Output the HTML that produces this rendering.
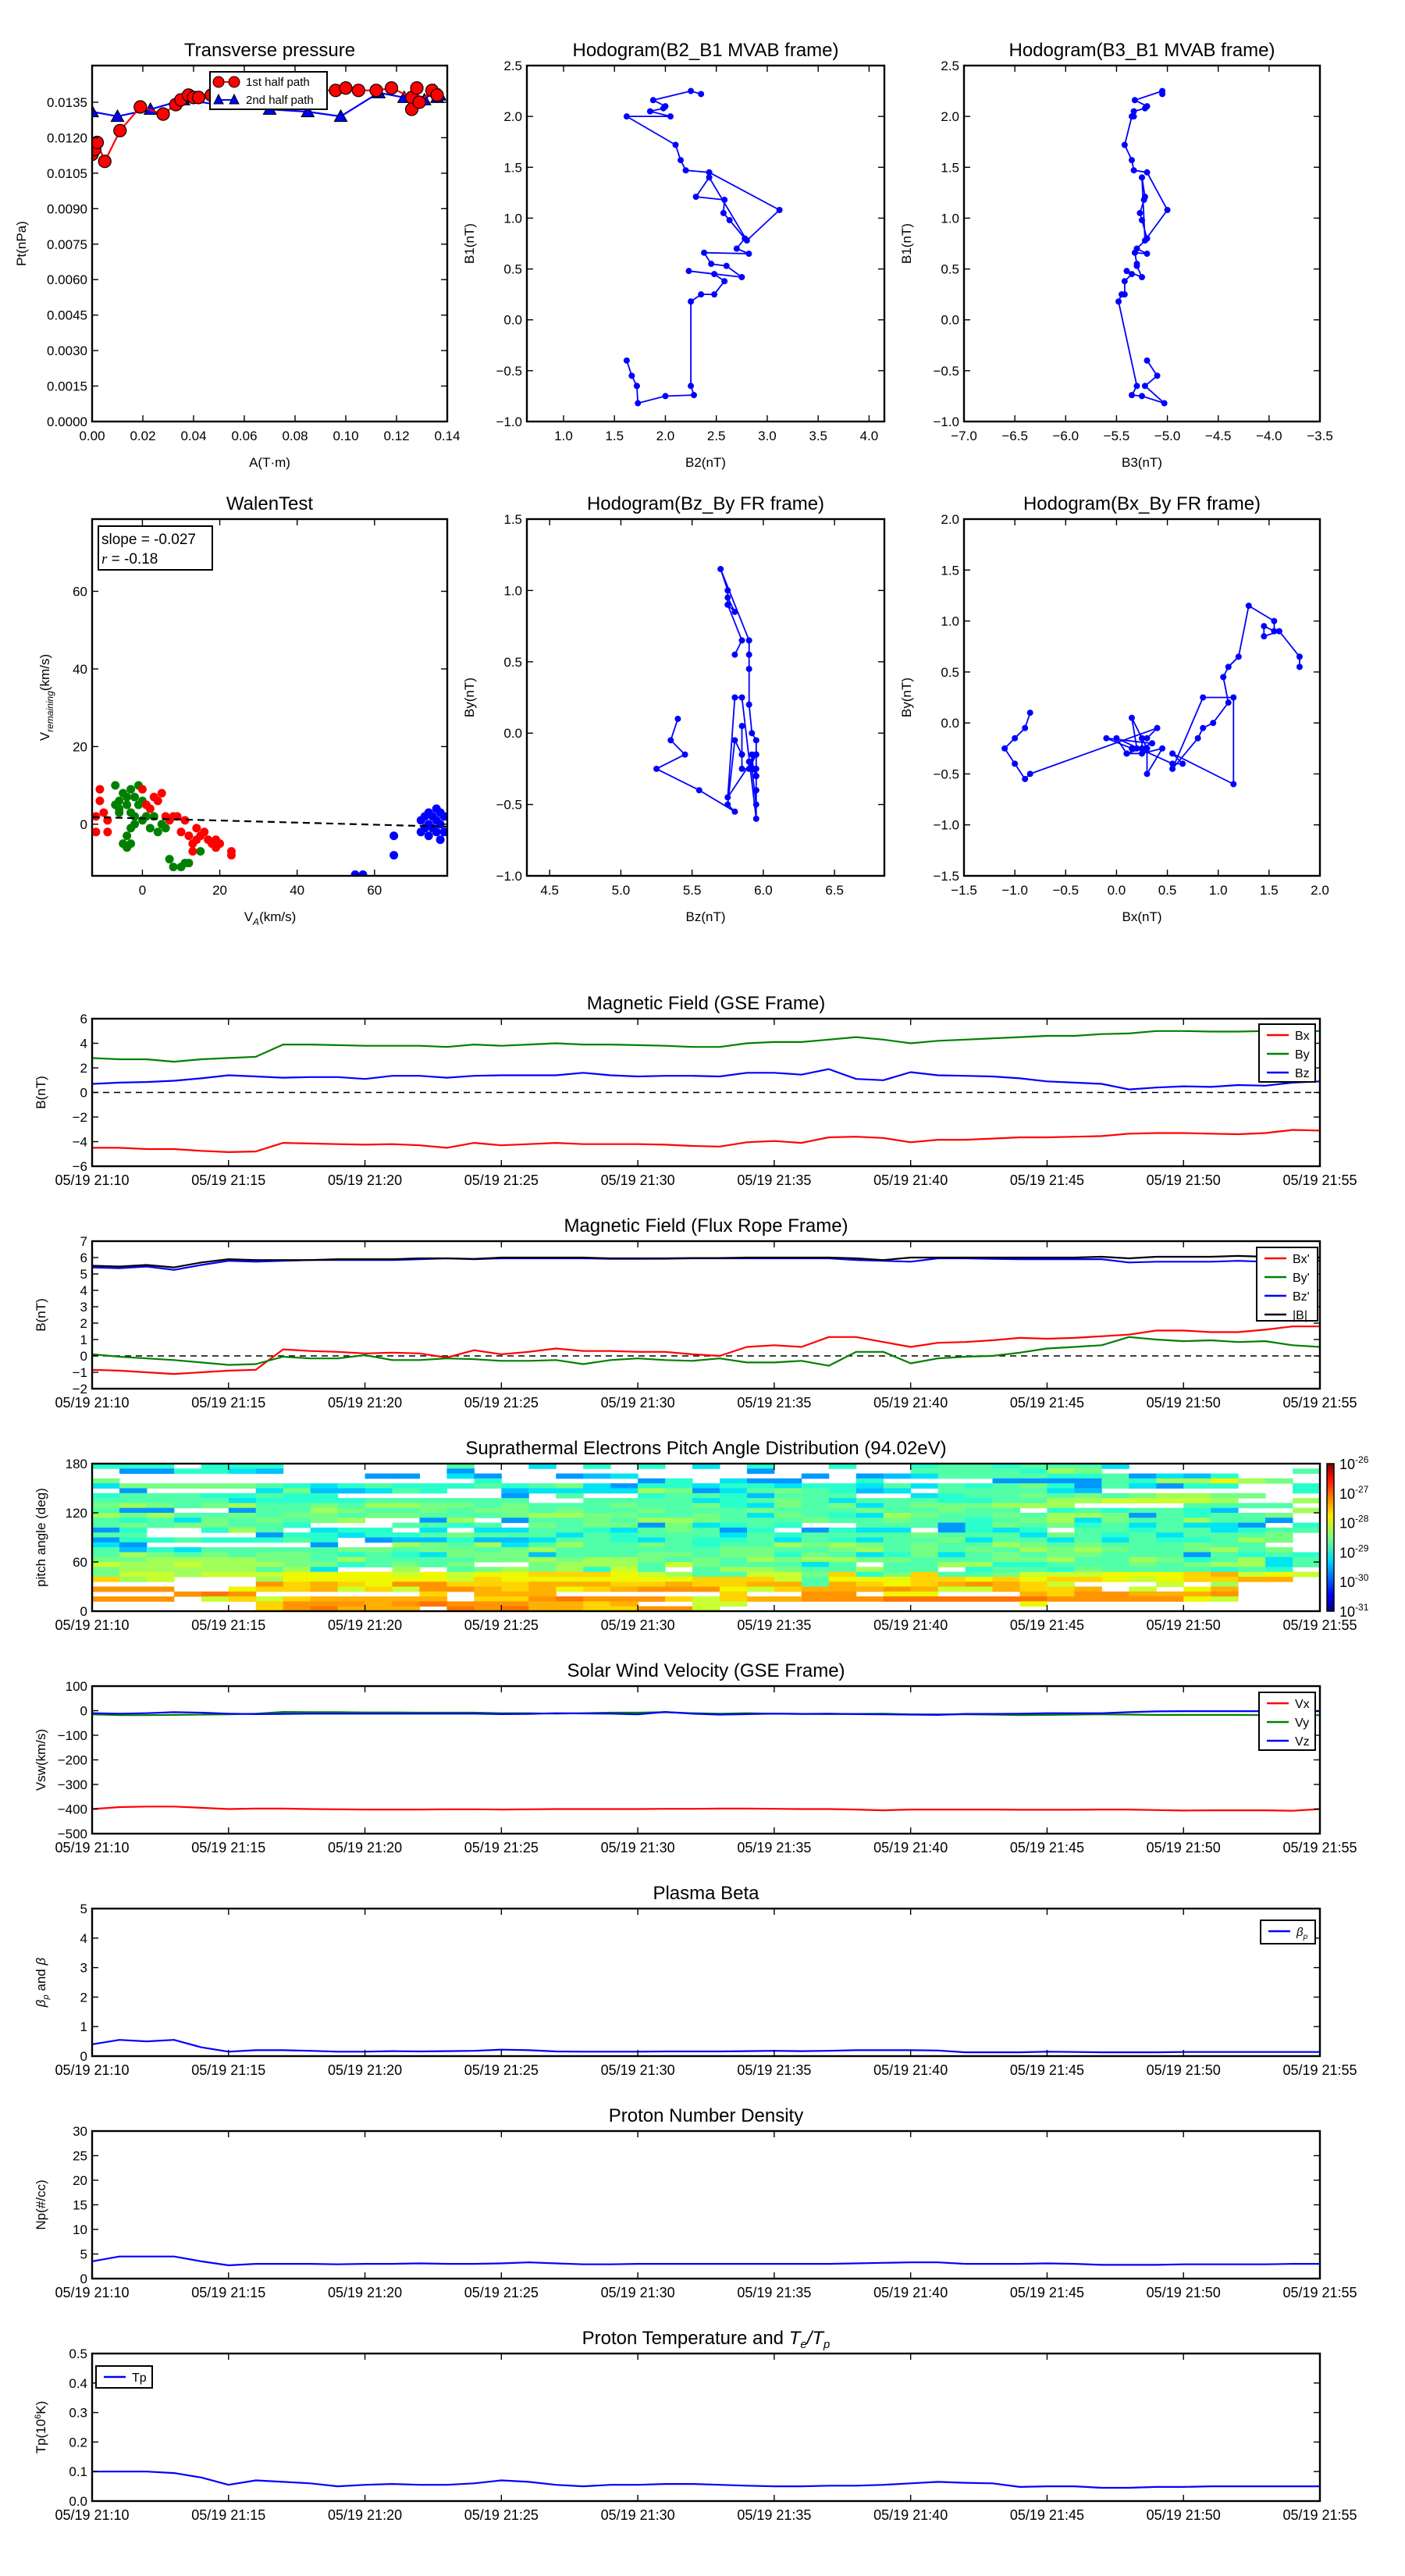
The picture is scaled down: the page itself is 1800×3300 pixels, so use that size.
<!DOCTYPE html>
<html><head><meta charset="utf-8"><title>Flux rope analysis</title>
<style>
html,body{margin:0;padding:0;background:#fff;}
svg{display:block;font-family:"Liberation Sans","DejaVu Sans",sans-serif;}
</style></head>
<body>
<svg id="fig" xmlns="http://www.w3.org/2000/svg" width="1800" height="3300" viewBox="0 0 1800 3300">
<rect x="0" y="0" width="1800" height="3300" fill="#fff"/>
</svg>
<script>
// ---------- DATA ----------
// Transverse pressure
const ptRedA=[0.0,0.001,0.002,0.005,0.011,0.019,0.028,0.033,0.035,0.038,0.040,0.042,0.047,0.055,0.065,0.075,0.085,0.096,0.100,0.105,0.112,0.118,0.126,0.126,0.128,0.129,0.134,0.136];
const ptRedP=[0.0113,0.0115,0.0118,0.0110,0.0123,0.0133,0.0130,0.0134,0.0136,0.0138,0.0137,0.0137,0.0138,0.0139,0.0139,0.0140,0.0140,0.0140,0.0141,0.0140,0.0140,0.0141,0.0137,0.0132,0.0141,0.0135,0.0140,0.0138];
const ptBlueA=[0.0,0.010,0.023,0.036,0.050,0.070,0.085,0.098,0.113,0.123,0.131,0.135,0.137,0.136];
const ptBlueP=[0.0131,0.0129,0.0132,0.0136,0.0134,0.0132,0.0131,0.0129,0.0139,0.0137,0.0136,0.0140,0.0138,0.0137];
const ptXTicks=[0,0.02,0.04,0.06,0.08,0.10,0.12,0.14];
const ptYTicks=[0,0.0015,0.003,0.0045,0.006,0.0075,0.009,0.0105,0.012,0.0135];
// MVAB hodograms
const mvB1=[2.22,2.25,2.16,2.10,2.08,2.05,2.00,2.00,1.72,1.57,1.47,1.45,1.08,0.78,1.40,1.21,1.18,1.05,0.98,0.80,0.70,0.65,0.66,0.55,0.53,0.42,0.48,0.45,0.38,0.25,0.25,0.18,-0.65,-0.74,-0.75,-0.82,-0.65,-0.55,-0.40];
const mvB2=[2.35,2.25,1.88,2.00,1.98,1.85,2.05,1.62,2.10,2.15,2.20,2.43,3.12,2.80,2.43,2.30,2.58,2.57,2.63,2.78,2.70,2.82,2.38,2.45,2.60,2.75,2.23,2.48,2.58,2.48,2.35,2.25,2.25,2.28,2.00,1.73,1.72,1.67,1.62];
const mvB3=[-5.05,-5.05,-5.32,-5.20,-5.22,-5.33,-5.33,-5.35,-5.42,-5.35,-5.33,-5.20,-5.00,-5.22,-5.25,-5.22,-5.23,-5.27,-5.25,-5.20,-5.30,-5.20,-5.32,-5.30,-5.30,-5.25,-5.40,-5.35,-5.42,-5.42,-5.45,-5.48,-5.30,-5.35,-5.25,-5.03,-5.22,-5.10,-5.20];
// Walen test
const walRedX=[-12,-12,-11,-11,-10,-9,-9,0,1,2,3,4,5,6,7,8,9,10,11,12,13,13,14,14,15,16,17,18,19,19,20,23,23];
const walRedY=[2,-2,6,9,3,1,-2,9,5,4,7,6,8,2,1,2,2,-2,1,-3,-5,-7,-1,-4,-3,-2,-4,-5,-6,-4,-5,-7,-8];
const walGreenX=[-7,-6,-6,-5,-4,-4,-3,-3,-2,-2,-1,-1,0,0,1,-3,-4,-3,-2,2,4,5,6,7,8,10,11,12,15,-5,-4,3,-6,-7];
const walGreenY=[10,6,4,8,7,5,9,3,7,2,5,10,6,1,2,-1,-3,-5,0,-1,-2,0,-1,-9,-11,-11,-10,-10,-7,-5,-6,2,3,5];
const walBlueX=[72,73,73,74,74,75,75,76,76,76,77,77,78,78,77,65,65,55,57,72,74];
const walBlueY=[1,-1,2,3,0,2,-1,4,1,-2,3,0,2,-2,-4,-3,-8,-13,-13,-2,-3];
const walSlope=-0.027, walIntercept=1.5;
// Time series (1-min, 21:10 .. 21:55)
const timeLabels=["05/19 21:10","05/19 21:15","05/19 21:20","05/19 21:25","05/19 21:30","05/19 21:35","05/19 21:40","05/19 21:45","05/19 21:50","05/19 21:55"];
const gseBx=[-4.5,-4.5,-4.6,-4.6,-4.75,-4.85,-4.8,-4.1,-4.15,-4.2,-4.25,-4.2,-4.3,-4.5,-4.1,-4.3,-4.2,-4.1,-4.2,-4.2,-4.2,-4.25,-4.35,-4.4,-4.05,-3.95,-4.1,-3.65,-3.6,-3.7,-4.05,-3.85,-3.85,-3.75,-3.65,-3.65,-3.6,-3.55,-3.35,-3.3,-3.3,-3.35,-3.4,-3.3,-3.05,-3.1];
const gseBy=[2.8,2.7,2.7,2.5,2.7,2.8,2.9,3.9,3.9,3.85,3.8,3.8,3.8,3.7,3.9,3.8,3.9,4.0,3.9,3.9,3.85,3.8,3.7,3.7,4.0,4.1,4.1,4.3,4.5,4.3,4.0,4.2,4.3,4.4,4.5,4.6,4.6,4.75,4.8,5.0,5.0,4.95,4.95,5.0,5.0,5.0];
const gseBz=[0.7,0.8,0.85,0.95,1.15,1.4,1.3,1.2,1.25,1.25,1.1,1.35,1.35,1.2,1.35,1.4,1.4,1.4,1.6,1.4,1.3,1.35,1.35,1.3,1.6,1.6,1.45,1.9,1.1,1.0,1.65,1.4,1.35,1.3,1.15,0.9,0.8,0.7,0.25,0.4,0.5,0.45,0.6,0.55,0.8,0.9];
const frBx=[-0.85,-0.9,-1.0,-1.1,-1.0,-0.9,-0.85,0.4,0.3,0.25,0.15,0.2,0.15,-0.1,0.35,0.1,0.25,0.45,0.3,0.3,0.25,0.25,0.1,0.0,0.55,0.65,0.55,1.15,1.15,0.85,0.55,0.8,0.85,0.95,1.1,1.05,1.1,1.2,1.3,1.55,1.55,1.45,1.45,1.6,1.8,1.8];
const frBy=[0.1,-0.05,-0.15,-0.25,-0.4,-0.55,-0.5,-0.05,-0.15,-0.15,0.05,-0.25,-0.25,-0.15,-0.2,-0.3,-0.3,-0.25,-0.5,-0.25,-0.15,-0.25,-0.3,-0.15,-0.4,-0.4,-0.3,-0.6,0.25,0.25,-0.45,-0.15,-0.05,0.0,0.2,0.45,0.55,0.65,1.15,1.0,0.9,0.95,0.85,0.9,0.65,0.55];
const frBz=[5.4,5.35,5.45,5.25,5.55,5.8,5.75,5.8,5.85,5.85,5.85,5.85,5.9,5.95,5.9,5.95,5.95,5.95,5.95,5.92,5.92,5.93,5.95,5.95,5.95,5.95,5.95,5.95,5.85,5.8,5.75,5.95,5.95,5.92,5.9,5.9,5.9,5.9,5.7,5.75,5.75,5.75,5.8,5.75,5.85,5.8];
const frBt=[5.5,5.45,5.55,5.4,5.7,5.9,5.85,5.85,5.85,5.9,5.9,5.9,5.95,5.95,5.92,6.0,6.0,6.0,6.0,5.95,5.95,5.95,5.97,5.97,6.0,6.0,6.0,6.0,5.95,5.85,6.0,6.0,6.0,6.0,6.0,6.0,6.0,6.05,5.95,6.05,6.05,6.05,6.1,6.05,6.05,6.0];
const padRows=[
"ttt.ttt......m..c.t.t.c.t..t..tmmtmmmc.......",
".BBttcb......B..........B.....mmmmtlg.......m",
"..........BB.cB..Bbc......B.BbcmmmmttmBcbt...",
"g.............t.....Bt.cBB..t....BBBBmtllylg.c",
"cgggggmtctmtttmtmgcBttcttcttcmcmtmgtBmcBtt..t",
".B....cgbbcmt..bcccclgBcmgmtbc.mmmmcb.......t",
"tmmmttmtt......B.m..tmmtbmmm..ctmmgmgmgllgg..",
"mmmmmcttttmmmmmm..mmmmctmgmcmmmttmmllkkkkl..l",
"glgmglmmgmllggmgmmmgmmgtcgmgcmggglll....mmmm.",
"mBB..Bmmlgmmgmggmgmmgmmmgmmmgmmgmm.tmtmmtb..l",
"lglmmgmggmggmmmgllggmmgmcgmtclgmmgmllgBmtmmg.",
"mtmcgmgmgl..Bl.BmmgmllgmmmgmmgmmtmglcgmmlmmB.",
"mgmggmmt...mmtm.gmggBgctmt..mmmBtgmgtmcmccB.t",
"Bt..tlm.ctt.c.ccmmtcmgmBt.Btcc.Btct.mmtmmctmmc",
"mm....Bttcttmgmmmcmtmmmcmtmmmmgmmmcgmtmcmmmg.",
"Bttmtttmt.Bbbtbbcmmtcmttmcmtcmmgcmmcmcmttmlg.c",
"cB......B..lgmlcmlmmgmtmmlglgmgmmlgmgmmmgmm..",
"mbtcmmmmmggmggmglmmmmmmggmmglmgmgmlglgmmglmg.g",
"mlgmgmggmtmtcgggbmmmggmggtgmctgcmgmggmmmBmtmt",
"ggllllggmlmmmmgglgllgmgmlgllggmmmgglmmlgtmlcmg",
"kllklllggtmgmg..glllmkgmmmcm.mmllttmmmgmgllcm.",
"glllllmlc..l.mglgltkm.mllgmmlmm.tmmtgmmmmtmt.m",
"gkklkkkyyyykykyyYYYyklmmkkgYtgYmmgkkkyyyYokyk.y",
"Ylk...lyyyyyykYyyyyyyyYYYkmyyyYYyYyYYykyYYoo..",
"......OYoYyOOYYYoooYYoYYoomoYyYoOoYk...k.l....Y",
"OOO..yYYokYkOOoYoyYoOOOykYoooOokkoYYo.k.yo...O",
"...OrO......Y.ooo......Y..OO.yy...oYOOoooO....",
"OOO.kYkYooooo.YYOrOOOYkYooOOOrrrrrrOOOOOyk....",
"......YOOOoOrOOOooYo..kk..........y..........",
"......YOrooo.rOrooYYOOk.......................",];
const vswX=[-400,-392,-390,-390,-395,-400,-398,-398,-400,-401,-402,-402,-402,-401,-401,-402,-401,-400,-400,-400,-400,-399,-399,-398,-398,-399,-400,-400,-402,-405,-402,-402,-402,-402,-403,-403,-403,-402,-402,-404,-406,-405,-405,-405,-407,-400];
const vswY=[-15,-18,-18,-17,-16,-15,-12,-5,-6,-6,-7,-7,-8,-8,-8,-10,-10,-12,-10,-8,-8,-6,-10,-12,-10,-12,-13,-14,-13,-12,-15,-15,-15,-16,-18,-17,-16,-15,-16,-17,-17,-17,-17,-18,-18,-18];
const vswZ=[-10,-12,-10,-6,-8,-12,-14,-13,-12,-12,-12,-12,-12,-12,-12,-14,-13,-10,-11,-12,-15,-5,-12,-16,-14,-12,-13,-12,-14,-15,-16,-17,-13,-13,-12,-10,-10,-10,-6,-3,-2,-2,-2,-2,-2,-2];
const betaP=[0.4,0.55,0.5,0.55,0.3,0.15,0.2,0.2,0.18,0.15,0.15,0.17,0.16,0.17,0.18,0.22,0.2,0.16,0.15,0.15,0.15,0.16,0.16,0.16,0.17,0.18,0.17,0.18,0.2,0.2,0.2,0.19,0.13,0.13,0.13,0.15,0.14,0.13,0.13,0.13,0.14,0.14,0.14,0.14,0.14,0.14];
const densP=[3.5,4.5,4.5,4.5,3.5,2.7,3,3,3,2.9,3,3,3.1,3,3,3.1,3.3,3.1,2.9,2.9,3,3,3,3,3,3,3,3,3.1,3.2,3.3,3.3,3,3,3,3.1,3,2.8,2.8,2.8,2.9,2.9,2.9,2.9,3,3];
const tempP=[0.1,0.1,0.1,0.095,0.08,0.055,0.07,0.065,0.06,0.05,0.055,0.058,0.055,0.055,0.06,0.07,0.065,0.055,0.05,0.055,0.055,0.058,0.058,0.055,0.052,0.05,0.05,0.052,0.052,0.055,0.06,0.065,0.062,0.06,0.048,0.05,0.05,0.045,0.045,0.048,0.048,0.05,0.05,0.05,0.05,0.05];
const cbarExp=["-26","-27","-28","-29","-30","-31"];

// ---------- HELPERS ----------
const NS='http://www.w3.org/2000/svg';
const fig=document.getElementById('fig');
function mk(tag, attrs, parent){
  const e=document.createElementNS(NS,tag);
  for(const k in attrs) e.setAttribute(k,attrs[k]);
  (parent||fig).appendChild(e);
  return e;
}
function txt(s, x, y, size, anchor, parent, extra){
  const t=mk('text',Object.assign({x:x,y:y,'font-size':size,'text-anchor':anchor||'middle',fill:'#000'},extra||{}),parent);
  t.textContent=s;
  return t;
}
function lin(d0,d1,p0,p1){return v=>p0+(v-d0)/(d1-d0)*(p1-p0);}
function fmt(v,d){return v.toFixed(d).replace('-','\u2212');}

function axes(o){
  const g=mk('g',{});
  
  
  const sx=lin(o.xmin,o.xmax,o.x0,o.x0+o.w), sy=lin(o.ymin,o.ymax,o.y0+o.h,o.y0);
  const clipId='clip-'+o.name;
  const cp=mk('clipPath',{id:clipId},g); mk('rect',{x:o.x0,y:o.y0,width:o.w,height:o.h},cp);
  const plot=mk('g',{'clip-path':'url(#'+clipId+')'},g);
  
  
  // ticks
  const tg=mk('g',{stroke:'#000','stroke-width':1.4},g);
  (o.xticks||[]).forEach((v,i)=>{
    const x=sx(v);
    mk('line',{x1:x,y1:o.y0+o.h,x2:x,y2:o.y0+o.h-8},tg);
    mk('line',{x1:x,y1:o.y0,x2:x,y2:o.y0+8},tg);
    if(!o.timeAxis){const l=txt(o.xfmt(v),x,o.y0+o.h+24,17,'middle',g);
    }
  });
  (o.yticks||[]).forEach((v,i)=>{
    const y=sy(v);
    mk('line',{x1:o.x0,y1:y,x2:o.x0+8,y2:y},tg);
    mk('line',{x1:o.x0+o.w,y1:y,x2:o.x0+o.w-8,y2:y},tg);
    const l=txt(o.yfmt(v),o.x0-6,y+6,17,'end',g);
    
  });
  if(o.timeAxis){
    timeLabels.forEach((s,i)=>{const l=txt(s,sx(i*5),o.y0+o.h+24,18,'middle',g);
    });
  }
  mk('rect',{x:o.x0,y:o.y0,width:o.w,height:o.h,fill:'none',stroke:'#000','stroke-width':2.4},g);
  if(o.title){const t=txt(o.title,o.x0+o.w/2,o.y0-12,24,'middle',g);
    }
  if(o.xlabel){const t=txt(o.xlabel,o.x0+o.w/2,o.y0+o.h+58,17,'middle',g);
    }
  if(o.ylabel){const yx=o.x0-o.ylOff, yy=o.y0+o.h/2;
    const t=txt(o.ylabel,yx,yy,17,'middle',g,{transform:'rotate(-90 '+yx+' '+yy+')'});
    }
  return {g,plot,sx,sy};
}
function polyline(ax,xs,ys,color,w,name,dash){
  const pts=xs.map((x,i)=>ax.sx(x).toFixed(1)+','+ax.sy(ys[i]).toFixed(1)).join(' ');
  const p=mk('polyline',{points:pts,fill:'none',stroke:color,'stroke-width':w||2.2,'stroke-linejoin':'round'},ax.plot);
  if(dash) p.setAttribute('stroke-dasharray',dash);
  
  
  return p;
}
function dots(ax,xs,ys,color,r,name,stroke){
  const g=mk('g',{},ax.plot);
  
  
  xs.forEach((x,i)=>{
    const c=mk('circle',{cx:ax.sx(x),cy:ax.sy(ys[i]),r:r,fill:color},g);
    if(stroke){c.setAttribute('stroke',stroke);c.setAttribute('stroke-width',1.2);}
  });
  return g;
}
function tris(ax,xs,ys,color,s,name){
  const g=mk('g',{},ax.plot);
  
  
  xs.forEach((x,i)=>{
    const cx=ax.sx(x), cy=ax.sy(ys[i]);
    mk('polygon',{points:`${cx},${cy-s} ${cx-s},${cy+s*0.8} ${cx+s},${cy+s*0.8}`,fill:color,stroke:'#000','stroke-width':1.2},g);
  });
}
function rng(a,b,s){const r=[];for(let v=a;v<=b+1e-9;v+=s)r.push(+v.toFixed(6));return r;}
function legend(x,y,w,h,entries,name,parent){
  const g=mk('g',{},parent||fig);
  
  
  mk('rect',{x:x,y:y,width:w,height:h,fill:'#fff',stroke:'#000','stroke-width':2},g);
  entries.forEach((e,i)=>{
    const cy=y+14+i*24;
    mk('line',{x1:x+10,y1:cy,x2:x+38,y2:cy,stroke:e[1],'stroke-width':2.4},g);
    const t=txt(e[0],x+46,cy+6,16,'start',g);
    
  });
  return g;
}

// ---------- ROW 1 ----------
const R1={y0:84,h:456}, R2={y0:665,h:457};
const C=[{x0:118,w:455},{x0:675,w:458},{x0:1235,w:456}];

const axPt=axes({name:'transverse-pressure',x0:C[0].x0,y0:R1.y0,w:C[0].w,h:R1.h,xmin:0,xmax:0.14,ymin:0,ymax:0.01505,
  xticks:ptXTicks,yticks:ptYTicks,xfmt:v=>v.toFixed(2),yfmt:v=>v.toFixed(4),title:'Transverse pressure',xlabel:'A(T\u00b7m)',ylabel:'Pt(nPa)',ylOff:85});
polyline(axPt,ptBlueA,ptBlueP,'#0000ff',2.2,'second-half-path-line');
tris(axPt,ptBlueA,ptBlueP,'#0000ff',8,'second-half-path-markers');
polyline(axPt,ptRedA,ptRedP,'#ff0000',2.2,'first-half-path-line');
dots(axPt,ptRedA,ptRedP,'#ff0000',8,'first-half-path-markers','#000');
(function(){
  const g=mk('g',{},axPt.g);
  
  
  mk('rect',{x:269,y:92,width:150,height:48,fill:'#fff',stroke:'#000','stroke-width':2},g);
  mk('line',{x1:280,y1:105,x2:300,y2:105,stroke:'#f00','stroke-width':2},g);
  mk('circle',{cx:280,cy:105,r:7,fill:'#f00',stroke:'#000'},g);mk('circle',{cx:300,cy:105,r:7,fill:'#f00',stroke:'#000'},g);
  txt('1st half path',315,110,15,'start',g);
  mk('line',{x1:280,y1:128,x2:300,y2:128,stroke:'#00f','stroke-width':2},g);
  mk('polygon',{points:'280,121 274,133 286,133',fill:'#00f',stroke:'#000'},g);
  mk('polygon',{points:'300,121 294,133 306,133',fill:'#00f',stroke:'#000'},g);
  txt('2nd half path',315,133,15,'start',g);
})();

const axH1=axes({name:'hodogram-b2-b1',x0:C[1].x0,y0:R1.y0,w:C[1].w,h:R1.h,xmin:0.64,xmax:4.15,ymin:-1,ymax:2.5,
  xticks:rng(1,4,0.5),yticks:rng(-1,2.5,0.5),xfmt:v=>v.toFixed(1),yfmt:v=>fmt(v,1),title:'Hodogram(B2_B1 MVAB frame)',xlabel:'B2(nT)',ylabel:'B1(nT)',ylOff:68});
polyline(axH1,mvB2,mvB1,'#0000ff',1.8,'b2-b1-path');
dots(axH1,mvB2,mvB1,'#0000ff',4,'b2-b1-points');

const axH2=axes({name:'hodogram-b3-b1',x0:C[2].x0,y0:R1.y0,w:C[2].w,h:R1.h,xmin:-7,xmax:-3.5,ymin:-1,ymax:2.5,
  xticks:rng(-7,-3.5,0.5),yticks:rng(-1,2.5,0.5),xfmt:v=>fmt(v,1),yfmt:v=>fmt(v,1),title:'Hodogram(B3_B1 MVAB frame)',xlabel:'B3(nT)',ylabel:'B1(nT)',ylOff:68});
polyline(axH2,mvB3,mvB1,'#0000ff',1.8,'b3-b1-path');
dots(axH2,mvB3,mvB1,'#0000ff',4,'b3-b1-points');

// ---------- ROW 2 ----------
const axW=axes({name:'walen-test',x0:C[0].x0,y0:R2.y0,w:C[0].w,h:R2.h,xmin:-13,xmax:78.8,ymin:-13.3,ymax:78.6,
  xticks:[0,20,40,60],yticks:[0,20,40,60],xfmt:v=>String(v),yfmt:v=>String(v),title:'WalenTest',ylOff:62});
(function(){
  const t=txt('',axW.sx(33),R2.y0+R2.h+58,17,'middle',axW.g);
  
  t.innerHTML='V<tspan font-size="12" dy="5" font-style="italic">A</tspan><tspan dy="-5">(km/s)</tspan>';
  const yx=63, yy=R2.y0+R2.h/2;
  const t2=txt('',yx,yy,17,'middle',axW.g,{transform:'rotate(-90 '+yx+' '+yy+')'});
  
  t2.innerHTML='V<tspan font-size="12" dy="5" font-style="italic">remaining</tspan><tspan dy="-5">(km/s)</tspan>';
})();
dots(axW,walGreenX,walGreenY,'#008000',5.5,'walen-green-points');
dots(axW,walRedX,walRedY,'#ff0000',5.5,'walen-red-points');
dots(axW,walBlueX,walBlueY,'#0000ff',5.5,'walen-blue-points');
polyline(axW,[-13,78.8],[walIntercept+walSlope*-13,walIntercept+walSlope*78.8],'#000',2.2,'walen-fit-line','9,6');
(function(){
  const g=mk('g',{},axW.g);
  
  
  mk('rect',{x:126,y:674,width:146,height:56,fill:'#fff',stroke:'#000','stroke-width':2},g);
  txt('slope = -0.027',130,697,19,'start',g);
  const t=txt('',130,722,19,'start',g); t.innerHTML='<tspan font-style="italic" font-family="Liberation Serif">r</tspan> = -0.18';
})();

const axH3=axes({name:'hodogram-bz-by',x0:C[1].x0,y0:R2.y0,w:C[1].w,h:R2.h,xmin:4.34,xmax:6.85,ymin:-1,ymax:1.5,
  xticks:rng(4.5,6.5,0.5),yticks:rng(-1,1.5,0.5),xfmt:v=>v.toFixed(1),yfmt:v=>fmt(v,1),title:'Hodogram(Bz_By FR frame)',xlabel:'Bz(nT)',ylabel:'By(nT)',ylOff:68});
polyline(axH3,frBz,frBy,'#0000ff',1.8,'bz-by-path');
dots(axH3,frBz,frBy,'#0000ff',4,'bz-by-points');

const axH4=axes({name:'hodogram-bx-by',x0:C[2].x0,y0:R2.y0,w:C[2].w,h:R2.h,xmin:-1.5,xmax:2.0,ymin:-1.5,ymax:2.0,
  xticks:rng(-1.5,2,0.5),yticks:rng(-1.5,2,0.5),xfmt:v=>fmt(v,1),yfmt:v=>fmt(v,1),title:'Hodogram(Bx_By FR frame)',xlabel:'Bx(nT)',ylabel:'By(nT)',ylOff:68});
polyline(axH4,frBx,frBy,'#0000ff',1.8,'bx-by-path');
dots(axH4,frBx,frBy,'#0000ff',4,'bx-by-points');

// ---------- TIME SERIES ----------
const TX0=118, TW=1573, TH=189;
const mins=gseBx.map((_,i)=>i);
function tpanel(name,top,ymin,ymax,yticks,yfmt,title,ylabel){
  return axes({name:name,x0:TX0,y0:top,w:TW,h:TH,xmin:0,xmax:45,ymin:ymin,ymax:ymax,xticks:rng(0,45,5),yticks:yticks,
    yfmt:yfmt,timeAxis:true,title:title,ylabel:ylabel,ylOff:60});
}
const ax1=tpanel('gse-field-panel',1305,-6,6,rng(-6,6,2),v=>fmt(v,0),'Magnetic Field (GSE Frame)','B(nT)');
polyline(ax1,[0,45],[0,0],'#000',1.6,'zero-line','8,6');
polyline(ax1,mins,gseBx,'#ff0000',2.2,'bx-line');
polyline(ax1,mins,gseBy,'#008000',2.2,'by-line');
polyline(ax1,mins,gseBz,'#0000ff',2.2,'bz-line');
legend(1613,1312,72,74,[['Bx','#f00'],['By','#008000'],['Bz','#00f']],'gse-legend');

const ax2=tpanel('fr-field-panel',1590,-2,7,rng(-2,7,1),v=>fmt(v,0),'Magnetic Field (Flux Rope Frame)','B(nT)');
polyline(ax2,[0,45],[0,0],'#000',1.6,'zero-line','8,6');
polyline(ax2,mins,frBx,'#ff0000',2.2,'bx-prime-line');
polyline(ax2,mins,frBy,'#008000',2.2,'by-prime-line');
polyline(ax2,mins,frBz,'#0000ff',2.2,'bz-prime-line');
polyline(ax2,mins,frBt,'#000000',2.2,'b-total-line');
legend(1610,1598,78,94,[["Bx'",'#f00'],["By'",'#008000'],["Bz'",'#00f'],['|B|','#000']],'fr-legend');

// spectrogram
const ax3=tpanel('pitch-angle-panel',1875,0,180,[0,60,120,180],v=>String(v),'Suprathermal Electrons Pitch Angle Distribution (94.02eV)','pitch angle (deg)');
const padColors={t:'#28ffcc',m:'#50ffa8',g:'#74ff84',l:'#a0ff58',k:'#c8ff30',y:'#eef800',Y:'#ffd400',o:'#ffb000',O:'#ff9400',r:'#ff7400',c:'#00e4f4',b:'#00c0ff',B:'#0098ff'};
(function(){
  const g=mk('g',{},ax3.plot);
  
  
  padRows.forEach((row,r)=>{
    const nb=180/padRows.length;
    const yTop=ax3.sy(180-r*nb), yBot=ax3.sy(180-(r+1)*nb);
    for(let c=0;c<45;c++){
      const ch=row[c]; if(!ch||!padColors[ch]) continue;
      const x1=ax3.sx(c), x2=ax3.sx(c+1);
      mk('rect',{x:x1,y:yTop,width:x2-x1+0.5,height:yBot-yTop+0.5,fill:padColors[ch]},g);
    }
  });
  ax3.g.appendChild(ax3.g.querySelector('rect[stroke-width="2.4"]'));
})();
(function(){
  const g=mk('g',{});
  
  
  const defs=mk('defs',{},g);
  const lg=mk('linearGradient',{id:'jet',x1:0,y1:1,x2:0,y2:0},defs);
  [[0,'#00007f'],[0.11,'#0000ff'],[0.34,'#00d4ff'],[0.5,'#7dff7a'],[0.65,'#ffe600'],[0.89,'#ff1400'],[1,'#7f0000']].forEach(s=>mk('stop',{offset:s[0],'stop-color':s[1]},lg));
  mk('rect',{x:1700,y:1875,width:9,height:189,fill:'url(#jet)',stroke:'#000','stroke-width':1.5},g);
  cbarExp.forEach((e,i)=>{
    const y=1875+i*189/5;
    const t=txt('',1716,y+7,18,'start',g);
    
    t.innerHTML='10<tspan font-size="12" dy="-8">'+e+'</tspan>';
  });
})();

const ax4=tpanel('velocity-panel',2160,-500,100,rng(-500,100,100),v=>fmt(v,0),'Solar Wind Velocity (GSE Frame)','Vsw(km/s)');
polyline(ax4,mins,vswX,'#ff0000',2.2,'vx-line');
polyline(ax4,mins,vswY,'#008000',2.2,'vy-line');
polyline(ax4,mins,vswZ,'#0000ff',2.2,'vz-line');
legend(1613,2168,72,74,[['Vx','#f00'],['Vy','#008000'],['Vz','#00f']],'velocity-legend');

const ax5=tpanel('plasma-beta-panel',2445,0,5,rng(0,5,1),v=>String(v),'Plasma Beta','');
polyline(ax5,mins,betaP,'#0000ff',2.2,'beta-line');
(function(){
  const yx=58, yy=2445+TH/2;
  const t=txt('',yx,yy,17,'middle',ax5.g,{transform:'rotate(-90 '+yx+' '+yy+')'});
  
  t.innerHTML='<tspan font-style="italic">β</tspan><tspan font-size="11" dy="4" font-style="italic">p</tspan><tspan dy="-4"> and </tspan><tspan font-style="italic">β</tspan>';
  const g=legend(1615,2460,70,30,[['',"#00f"]],'beta-legend');
  const l=txt('',1661,2480,15,'start',g); l.innerHTML='<tspan font-style="italic">β</tspan><tspan font-size="10" dy="4" font-style="italic">p</tspan>';
})();

const ax6=tpanel('density-panel',2730,0,30,rng(0,30,5),v=>String(v),'Proton Number Density','Np(#/cc)');
polyline(ax6,mins,densP,'#0000ff',2.2,'density-line');

const ax7=tpanel('temperature-panel',3015,0,0.5,rng(0,0.5,0.1),v=>v.toFixed(1),'','');
polyline(ax7,mins,tempP,'#0000ff',2.2,'temperature-line');
(function(){
  const t=txt('',TX0+TW/2,3003,24,'middle',ax7.g);
  
  t.innerHTML='Proton Temperature and <tspan font-style="italic">T</tspan><tspan font-size="15" dy="5" font-style="italic">e</tspan><tspan dy="-5" font-style="italic">/T</tspan><tspan font-size="15" dy="5" font-style="italic">p</tspan>';
  const yx=58, yy=3015+TH/2;
  const t2=txt('',yx,yy,17,'middle',ax7.g,{transform:'rotate(-90 '+yx+' '+yy+')'});
  
  t2.innerHTML='Tp(10<tspan font-size="11" dy="-6">6</tspan><tspan dy="6">K)</tspan>';
  legend(123,3031,72,28,[['Tp','#00f']],'temperature-legend');
})();
</script>
</body></html>
